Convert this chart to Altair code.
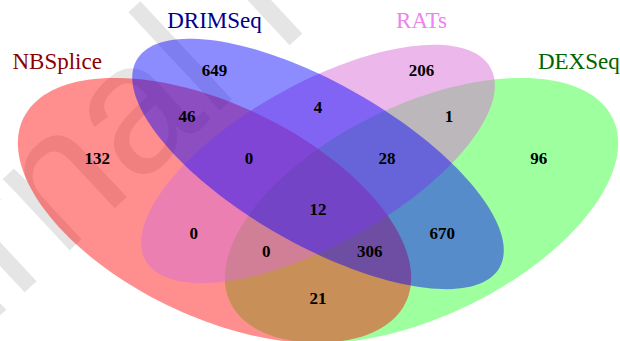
import numpy as np
import pandas as pd
import altair as alt

# Four sets drawn as rotated ellipses (quad Venn layout, unit-square coordinates)
set_names = ["NBSplice", "DRIMSeq", "RATs", "DEXSeq"]
centre_x = [0.35, 0.50, 0.50, 0.65]
centre_y = [0.47, 0.57, 0.57, 0.47]
semi_a = [0.35, 0.35, 0.33, 0.35]
semi_b = [0.20, 0.15, 0.15, 0.20]
rotation_deg = [135, 135, 45, 45]
fill_colors = ["#FF0000", "#0000FF", "#DA70D6", "#00FF00"]
fill_alpha = [0.44, 0.45, 0.50, 0.38]
draw_order = [3, 0, 2, 1]

# Set titles
title_colors = ["#8B0000", "#00008B", "#EE82EE", "#006400"]
title_x = [0.122, 0.35, 0.65, 0.878]
title_y = [0.79, 0.877, 0.877, 0.79]

# Region counts and where each count sits
region_counts = [649, 206, 132, 96, 46, 4, 1, 0, 28, 12, 0, 0, 306, 670, 21]
region_x = [0.35, 0.65, 0.18, 0.82, 0.31, 0.50, 0.69, 0.40, 0.60, 0.50, 0.32, 0.425, 0.575, 0.68, 0.50]
region_y = [0.77, 0.77, 0.58, 0.58, 0.67, 0.69, 0.67, 0.58, 0.58, 0.47, 0.42, 0.38, 0.38, 0.42, 0.28]

# Background stamp
stamp_text = "Journal Pre-proof"
stamp_x = [0.5025]
stamp_y = [0.886]

W, H = 620, 341
x_scale = alt.Scale(domain=[0.0391, 0.9377], nice=False, zero=False)
y_scale = alt.Scale(domain=[0.1892, 0.9226], nice=False, zero=False)


def ellipse_outline(k, n=160):
    t = np.linspace(0, 2 * np.pi, n, endpoint=False)
    r = np.deg2rad(rotation_deg[k])
    ex = centre_x[k] + semi_a[k] * np.cos(t) * np.cos(r) - semi_b[k] * np.sin(t) * np.sin(r)
    ey = centre_y[k] + semi_a[k] * np.cos(t) * np.sin(r) + semi_b[k] * np.sin(t) * np.cos(r)
    return pd.DataFrame({"x": ex, "y": ey, "i": np.arange(n), "set": set_names[k]})


layers = []

stamp = alt.Chart(pd.DataFrame({"x": stamp_x, "y": stamp_y, "t": [stamp_text]})).mark_text(
    font="Liberation Sans", fontSize=185, angle=317, color="#E5E5E5",
    align="center", baseline="alphabetic", clip=True,
).encode(
    x=alt.X("x:Q", scale=x_scale, axis=None),
    y=alt.Y("y:Q", scale=y_scale, axis=None),
    text="t:N",
)
layers.append(stamp)

for k in draw_order:
    ell = alt.Chart(ellipse_outline(k)).mark_line(
        filled=True, interpolate="linear-closed", color=fill_colors[k],
        fillOpacity=fill_alpha[k], strokeWidth=0, clip=True,
    ).encode(
        x=alt.X("x:Q", scale=x_scale, axis=None),
        y=alt.Y("y:Q", scale=y_scale, axis=None),
        order="i:Q",
    )
    layers.append(ell)

counts_df = pd.DataFrame({"x": region_x, "y": region_y, "n": region_counts})
counts = alt.Chart(counts_df).mark_text(
    font="Liberation Serif", fontSize=17, fontWeight="bold", color="black",
    align="center", baseline="middle",
).encode(
    x=alt.X("x:Q", scale=x_scale, axis=None),
    y=alt.Y("y:Q", scale=y_scale, axis=None),
    text="n:Q",
)
layers.append(counts)

titles_df = pd.DataFrame({"x": title_x, "y": title_y, "name": set_names, "c": title_colors})
titles = alt.Chart(titles_df).mark_text(
    font="Liberation Serif", fontSize=23, align="center", baseline="middle",
).encode(
    x=alt.X("x:Q", scale=x_scale, axis=None),
    y=alt.Y("y:Q", scale=y_scale, axis=None),
    text="name:N",
    color=alt.Color("c:N", scale=None),
)
layers.append(titles)

chart = alt.layer(*layers).properties(
    width=W, height=H,
    autosize=alt.AutoSizeParams(type="none"),
    padding=0,
    background="white",
).configure_view(stroke=None)

chart.save("out.html", embed_options={"renderer": "svg", "actions": False})
